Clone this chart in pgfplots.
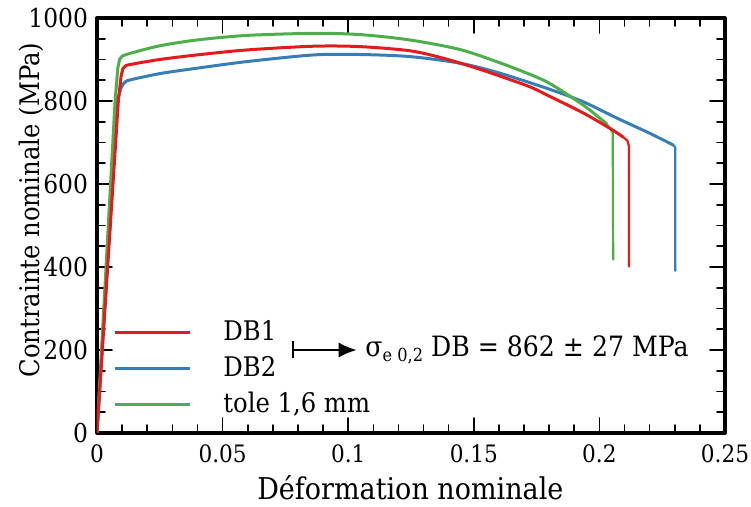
\documentclass[border=0pt]{standalone}
\usepackage{fontspec}
\setmainfont{DejaVu Serif Condensed}
\usepackage{pgfplots}
\pgfplotsset{compat=1.18}
\usetikzlibrary{arrows.meta}
\definecolor{cred}{RGB}{228,26,28}
\definecolor{cblue}{RGB}{55,126,184}
\definecolor{cgreen}{RGB}{77,175,74}
\begin{document}
\fontsize{13}{15.6}\selectfont
\begin{tikzpicture}
\begin{axis}[
 scale only axis, width=314pt, height=207.5pt,
 xmin=0, xmax=0.25, ymin=0, ymax=1000,
 xtick={0,0.05,0.1,0.15,0.2,0.25},
 xticklabels={\textrm{0},\textrm{0.05},\textrm{0.1},\textrm{0.15},\textrm{0.2},\textrm{0.25}},
 ytick={0,200,400,600,800,1000},
 yticklabels={\textrm{0},\textrm{200},\textrm{400},\textrm{600},\textrm{800},\textrm{1000}},
 minor x tick num=4, minor y tick num=3,
 tick align=inside, tick pos=both,
 major tick length=7.5pt, minor tick length=4pt,
 every tick/.append style={black, line width=0.8pt},
 axis line style={line width=1.6pt},
 xticklabel style={font=\fontsize{12}{14}\selectfont, yshift=-1.3pt},
 yticklabel style={font=\fontsize{13}{15}\selectfont},
 xlabel={Déformation nominale},
 ylabel={Contrainte nominale (MPa)},
 xlabel style={font=\fontsize{15}{17}\selectfont, inner sep=0pt,
   at={(axis description cs:0.499,-0.133)}, anchor=center},
 ylabel style={font=\fontsize{13.5}{16}\selectfont, inner sep=0pt,
   at={(axis description cs:-0.104,0.537)}, anchor=center},
 legend cell align=left,
 legend image code/.code={\draw[#1] (0pt,0pt) -- (37.5pt,0pt);},
 legend style={at={(axis cs:0.0040,292)}, anchor=north west, draw=none, fill=none,
   font=\fontsize{13.5}{16}\selectfont, row sep=2pt,
   /tikz/every odd column/.append style={column sep=14pt}},
 no markers, line join=round, line cap=round,
]
\addlegendimage{cred, line width=1.5pt}
\addlegendentry{DB1}
\addlegendimage{cblue, line width=1.5pt}
\addlegendentry{DB2}
\addlegendimage{cgreen, line width=1.5pt}
\addlegendentry{tole 1,6 mm}

% DB2 (blue)
\addplot[cblue, line width=1.5pt, forget plot] coordinates {
(0,0) (0.0081,800) (0.0095,830) (0.0104,841) (0.0115,847)};
\addplot[cblue, line width=1.5pt, forget plot, smooth, tension=0.5] coordinates {
(0.0115,847) (0.0133,851) (0.0250,866) (0.0398,879)
(0.0597,895) (0.0863,911) (0.1047,912) (0.1246,907) (0.1445,891)
(0.1604,867) (0.1803,828) (0.1936,798) (0.2069,759) (0.2201,722)
(0.2294,694)};
\addplot[cblue, line width=1.1pt, forget plot] coordinates {(0.2294,694) (0.2302,688) (0.2302,391)};
% tole (green)
\addplot[cgreen, line width=1.5pt, forget plot] coordinates {
(0,0) (0.0072,800) (0.0083,880) (0.0090,900) (0.0100,908)};
\addplot[cgreen, line width=1.5pt, forget plot, smooth, tension=0.5] coordinates {
(0.0100,908) (0.0133,915) (0.0250,933) (0.0398,947)
(0.0597,958) (0.0863,963) (0.1047,960) (0.1246,947) (0.1445,924) (0.1604,892)
(0.1724,864) (0.1803,842) (0.1936,790) (0.2029,745)};
\addplot[cgreen, line width=1.1pt, forget plot] coordinates {(0.2029,745) (0.2053,724) (0.2055,418)};
% DB1 (red)
\addplot[cred, line width=1.5pt, forget plot] coordinates {
(0,0) (0.0085,800) (0.0096,860) (0.0103,878) (0.0115,885)};
\addplot[cred, line width=1.5pt, forget plot, smooth, tension=0.5] coordinates {
(0.0115,885) (0.0133,888) (0.0250,900) (0.0398,911)
(0.0597,923) (0.0863,932) (0.1047,931) (0.1246,921) (0.1379,903) (0.1511,879)
(0.1604,860) (0.1724,834) (0.1803,811) (0.1936,771) (0.2042,734) (0.2095,713)};
\addplot[cred, line width=1.1pt, forget plot] coordinates {(0.2095,713) (0.2112,704) (0.2118,690) (0.2118,401)};

\draw[line width=1pt, {Bar[width=8.5pt]}-{Latex[length=9pt,width=7.5pt]}]
  (axis cs:0.0775,200) -- (axis cs:0.1034,200);
\node[anchor=west, inner sep=0pt, font=\fontsize{14}{16}\selectfont] at (axis cs:0.1067,200)
  {σ\raisebox{-2.5pt}{\fontsize{9}{10}\selectfont e 0,2} DB = 862 ± 27 MPa};
\end{axis}
\pgfresetboundingbox
\useasboundingbox ([xshift=-48.5pt,yshift=-37pt]current axis.south west)
  rectangle ([xshift=13pt,yshift=9pt]current axis.north east);
\end{tikzpicture}
\end{document}
